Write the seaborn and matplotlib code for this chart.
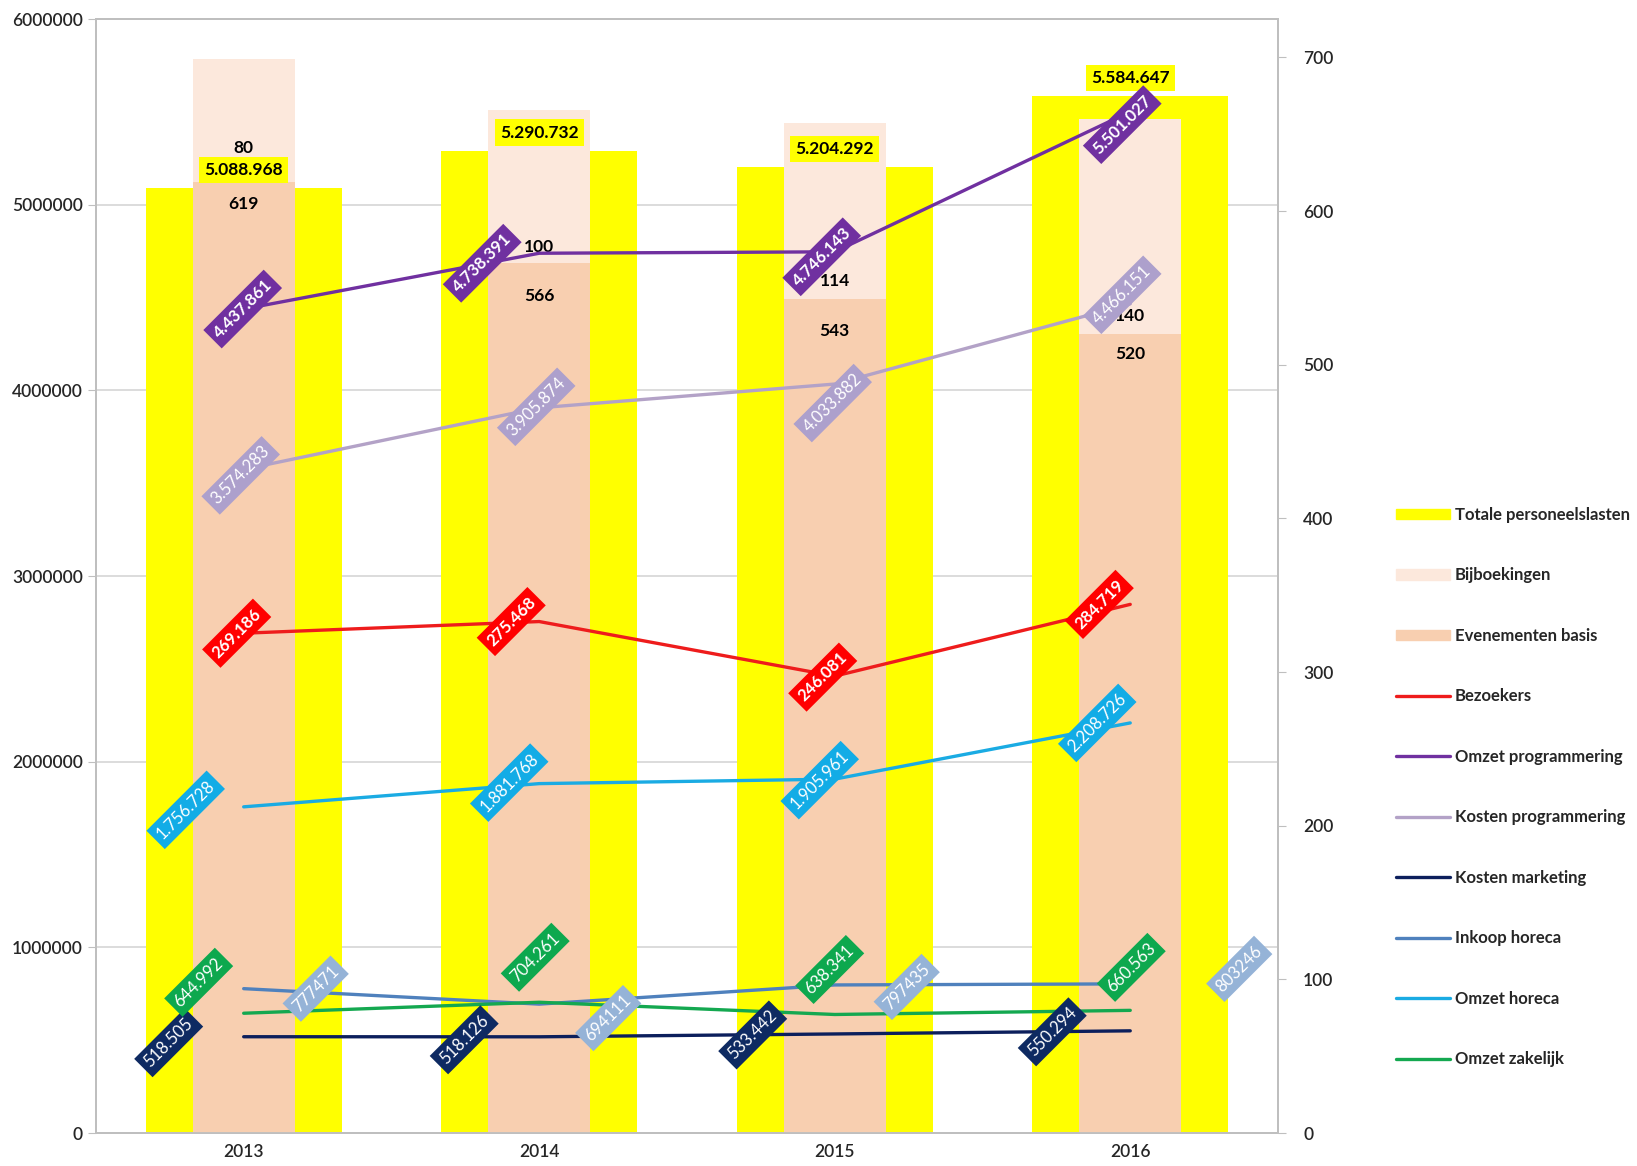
import numpy as np
import pandas as pd
import matplotlib
matplotlib.use("Agg")
import matplotlib.pyplot as plt
import seaborn as sns
from matplotlib.patches import Patch
from matplotlib.lines import Line2D

# data
years = [2013, 2014, 2015, 2016]
totale_personeelslasten = [5088968, 5290732, 5204292, 5584647]
evenementen_basis = [619, 566, 543, 520]
bijboekingen = [80, 100, 114, 140]
bezoekers = [269186, 275468, 246081, 284719]
omzet_programmering = [4437861, 4738391, 4746143, 5501027]
kosten_programmering = [3574283, 3905874, 4033882, 4466151]
kosten_marketing = [518505, 518126, 533442, 550294]
inkoop_horeca = [777471, 694111, 797435, 803246]
omzet_horeca = [1756728, 1881768, 1905961, 2208726]
omzet_zakelijk = [644992, 704261, 638341, 660563]

df = pd.DataFrame({
    "jaar": years,
    "totaal": totale_personeelslasten,
    "basis": evenementen_basis,
    "bij": bijboekingen,
})
df["stapel"] = df["basis"] + df["bij"]

GEEL = "#FFFF00"
BIJ = "#FCE8DC"
BASIS = "#F8CFB0"
GRIJS = "#BFBFBF"
TICK = 12.5
LABEL = 12

sns.set_style("white")
plt.rcParams["font.family"] = ["Lato", "DejaVu Sans"]

fig = plt.figure(figsize=(16.37, 11.66), dpi=100)
ax = fig.add_axes([0.0586, 0.0283, 0.7221, 0.9554])
ax2 = ax.twinx()
ax3 = ax.twinx()
ax4 = ax.twinx()

# gele balken, primaire as
sns.barplot(data=df, x="jaar", y="totaal", native_scale=True, width=0.663,
            color=GEEL, saturation=1, ax=ax, zorder=2, linewidth=0, edgecolor="none")
ax.set_ylim(0, 6000000)
ax.set_xlim(2012.5, 2016.5)
ax.set_yticks(np.arange(0, 6000001, 1000000))
ax.set_yticklabels([str(v) for v in range(0, 6000001, 1000000)], fontweight="semibold")
ax.yaxis.grid(True, color="#D9D9D9", lw=1.3, zorder=0)
ax.set_axisbelow(True)
ax.set_xlabel("")
ax.set_ylabel("")
ax.set_xticks(years)
ax.set_xticklabels([str(j) for j in years], fontweight="semibold")
ax.set_xticks([2012.5, 2013.5, 2014.5, 2015.5, 2016.5], minor=True)
ax.tick_params(axis="x", which="major", length=0, labelsize=TICK, pad=8, labelcolor="#262626")
ax.tick_params(axis="x", which="minor", length=6, color=GRIJS, direction="out")
ax.tick_params(axis="y", length=6, color=GRIJS, direction="out", labelsize=TICK, labelcolor="#262626")
for s in ax.spines.values():
    s.set_color(GRIJS)
    s.set_linewidth(1.3)

# gestapelde balken, secundaire as
sns.barplot(data=df, x="jaar", y="stapel", native_scale=True, width=0.345,
            color=BIJ, saturation=1, ax=ax2, linewidth=0, edgecolor="none")
sns.barplot(data=df, x="jaar", y="basis", native_scale=True, width=0.345,
            color=BASIS, saturation=1, ax=ax2, linewidth=0, edgecolor="none")
ax2.set_ylim(0, 725)
ax2.set_yticks(np.arange(0, 701, 100))
ax2.set_yticklabels([str(v) for v in range(0, 701, 100)], fontweight="semibold")
ax2.set_xlim(2012.5, 2016.5)
ax2.set_ylabel("")
ax2.set_xlabel("")
ax2.tick_params(axis="y", length=6, color=GRIJS, direction="out", labelsize=TICK,
                labelcolor="#262626", pad=12)
for s in ax2.spines.values():
    s.set_color(GRIJS)
    s.set_linewidth(1.3)

basis_off = [-22, -33, -32, -20]
bij_off = [34, 16, 18, 18]
for j, b, e, ob, oe in zip(years, evenementen_basis, bijboekingen, basis_off, bij_off):
    ax2.annotate(str(b), (j, b), xytext=(0, ob), textcoords="offset pixels", ha="center",
                 va="center", fontsize=12.5, fontweight="bold", color="black")
    ax2.annotate(str(e), (j, b), xytext=(0, oe), textcoords="offset pixels", ha="center",
                 va="center", fontsize=12.5, fontweight="bold", color="black")

# lijnen, primaire schaal (verborgen as bovenop)
ax3.set_ylim(0, 6000000)
ax3.set_xlim(2012.5, 2016.5)
ax3.axis("off")
ax4.set_ylim(0, 600000)
ax4.set_xlim(2012.5, 2016.5)
ax4.axis("off")

for j, v in zip(years, totale_personeelslasten):
    ax3.annotate(f"{v:,}".replace(",", "."), (j, v), xytext=(0, 18), textcoords="offset pixels",
                 ha="center", va="center", fontsize=12.5, fontweight="bold", color="black",
                 bbox=dict(boxstyle="square,pad=0.3", fc=GEEL, ec="none"), zorder=10)

reeksen = [
    ("Omzet programmering", omzet_programmering, "#7030A0", "#7030A0", "bold", True,
     [(-1, 0), (-57, -10), (-13, -5), (-8, -13)]),
    ("Kosten programmering", kosten_programmering, "#B3A2C7", "#ADA0CC", "normal", True,
     [(-3, -6), (-3, 1), (-2, -19), (-8, 9)]),
    ("Kosten marketing", kosten_marketing, "#0C1F5C", "#0E2A62", "normal", True,
     [(-75, -6), (-75, -3), (-82, -1), (-78, -1)]),
    ("Inkoop horeca", inkoop_horeca, "#4F81BD", "#95B3D7", "normal", False,
     [(72, 0), (69, -14), (72, -2), (109, 15)]),
    ("Omzet horeca", omzet_horeca, "#1AABE3", "#12ACE6", "normal", True,
     [(-58, -3), (-30, 1), (-15, -1), (-33, 0)]),
    ("Omzet zakelijk", omzet_zakelijk, "#14A850", "#0DA84E", "normal", True,
     [(-45, 31), (-4, 45), (-5, 45), (1, 43)]),
]

for naam, waarden, lijnkleur, boxkleur, gewicht, punten, offsets in reeksen:
    sns.lineplot(x=years, y=waarden, color=lijnkleur, lw=2.4, ax=ax3, legend=False)
    for j, v, (dx, dy) in zip(years, waarden, offsets):
        tekst = f"{v:,}".replace(",", ".") if punten else str(v)
        ax3.annotate(tekst, (j, v), xytext=(dx, dy), textcoords="offset pixels",
                     ha="center", va="center", rotation=45, rotation_mode="anchor",
                     fontsize=LABEL, fontweight=gewicht, color="white",
                     bbox=dict(boxstyle="square,pad=0.3", fc=boxkleur, ec="none"), zorder=10)

# bezoekers op eigen verborgen schaal
sns.lineplot(x=years, y=bezoekers, color="#EE1C1C", lw=2.4, ax=ax4, legend=False)
for j, v, (dx, dy) in zip(years, bezoekers, [(-7, 0), (-28, 0), (-12, -1), (-31, 0)]):
    ax4.annotate(f"{v:,}".replace(",", "."), (j, v), xytext=(dx, dy), textcoords="offset pixels",
                 ha="center", va="center", rotation=45, rotation_mode="anchor",
                 fontsize=LABEL, fontweight="bold", color="white",
                 bbox=dict(boxstyle="square,pad=0.3", fc="#FF0000", ec="none"), zorder=10)

# legenda
handles = [
    Patch(color=GEEL, label="Totale personeelslasten"),
    Patch(color=BIJ, label="Bijboekingen"),
    Patch(color=BASIS, label="Evenementen basis"),
    Line2D([], [], color="#EE1C1C", lw=2.4, label="Bezoekers"),
    Line2D([], [], color="#7030A0", lw=2.4, label="Omzet programmering"),
    Line2D([], [], color="#B3A2C7", lw=2.4, label="Kosten programmering"),
    Line2D([], [], color="#0C1F5C", lw=2.4, label="Kosten marketing"),
    Line2D([], [], color="#4F81BD", lw=2.4, label="Inkoop horeca"),
    Line2D([], [], color="#1AABE3", lw=2.4, label="Omzet horeca"),
    Line2D([], [], color="#14A850", lw=2.4, label="Omzet zakelijk"),
]
fig.legend(handles=handles, loc="center left", bbox_to_anchor=(0.853, 0.325), frameon=False,
           prop={"weight": "bold", "size": 12}, labelspacing=2.67, handlelength=3.2,
           handleheight=0.6, handletextpad=0.3, borderpad=0, borderaxespad=0)

fig.savefig("out.png", dpi=100)
